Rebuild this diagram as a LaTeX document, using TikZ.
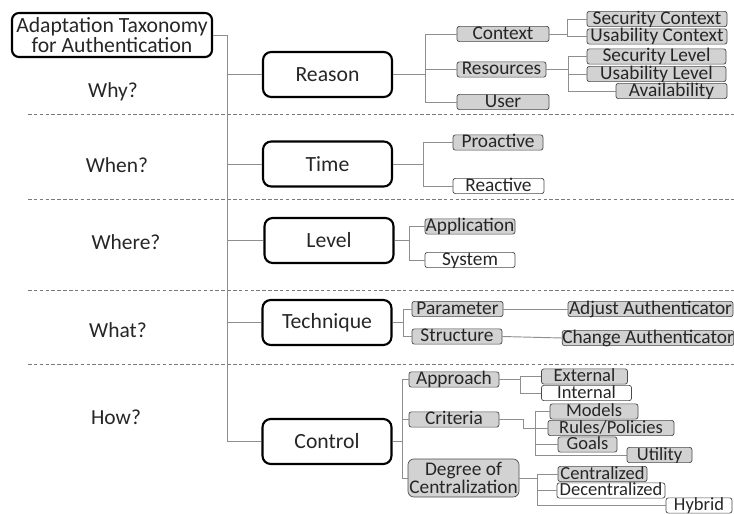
\documentclass[tikz,border=0pt]{standalone}
\usepackage{fontspec}
\setmainfont{Carlito}
\usepackage{xcolor}
\definecolor{txt}{HTML}{262626}
\definecolor{leafgray}{HTML}{D2D2D2}
\definecolor{edge}{HTML}{4A4A4A}
\definecolor{linkgray}{HTML}{8E8E8E}
\definecolor{sepgray}{HTML}{7A7A7A}

\tikzset{
  bw/.style={minimum width=#1*0.03cm},
  rootbox/.style={draw=black, line width=1.8pt, rounded corners=6pt, align=center,
    inner sep=0pt, minimum width=6cm, minimum height=1.32cm, text=txt,
    font=\fontsize{18.5}{17}\selectfont},
  mainbox/.style={draw=black, line width=1.8pt, rounded corners=7pt, text=txt,
    minimum width=3.87cm, minimum height=1.35cm, font=\fontsize{18.5}{18}\selectfont},
  question/.style={text=txt, font=\fontsize{18.3}{18}\selectfont},
  leafbase/.style={draw=edge, line width=0.6pt, rounded corners=2pt, fill=leafgray,
    inner sep=0pt, text=txt, font=\fontsize{16.5}{16}\selectfont},
  leaf/.style={leafbase, text height=10.8pt, text depth=2.2pt},
  leafw/.style={leaf, fill=white},
  small/.style={font=\fontsize{15.8}{15}\selectfont},
  link/.style={draw=linkgray, line width=0.8pt},
  sep/.style={draw=sepgray, line width=0.6pt, dash pattern=on 3pt off 2pt}
}

\begin{document}
\begin{tikzpicture}[x=0.03cm, y=-0.03cm]
  \clip (0,0) rectangle (734,514);

  % Root and questions
  \node[rootbox] (root) at (112,35) {Adaptation Taxonomy\\for Authentication};
  \node[question] (why) at (113,92) {Why?};
  \node[question] (when) at (117,165) {When?};
  \node[question] (where) at (126,242) {Where?};
  \node[question] (what) at (118,330) {What?};
  \node[question] (how) at (116,417) {How?};

  % Separators
  \foreach \y in {114,199,290,364}
    \draw[sep] (28,\y) -- (734,\y);

  % Main categories
  \node[mainbox] (reason) at (327.5,74.5) {Reason};
  \node[mainbox] (time) at (327.5,164) {Time};
  \node[mainbox] (level) at (329,240.5) {Level};
  \node[mainbox] (technique) at (327,322.5) {Technique};
  \node[mainbox] (control) at (327,441.5) {Control};

  % Trunk
  \coordinate (trunk) at (227,0);
  \draw[link] (root.east) -- (trunk |- root.east) |- (control.west);
  \foreach \n in {reason,time,level,technique}
    \draw[link] (trunk |- \n.west) -- (\n.west);

  % Reason
  \node[leaf, bw=92] (context) at (503,34) {Context};
  \node[leaf, bw=89] (resources) at (501.5,69.5) {Resources};
  \node[leaf, bw=92] (user) at (503,102) {User};
  \coordinate (rj) at (425,0);
  \foreach \n in {context,resources,user}
    \draw[link] (reason.east) -- (rj |- reason.east) |- (\n.west);

  \node[leaf, bw=140] (seccontext) at (657,19) {Security Context};
  \node[leaf, bw=140] (usecontext) at (657,36.5) {Usability Context};
  \coordinate (ctxj) at (567,0);
  \foreach \n in {seccontext,usecontext}
    \draw[link] (context.east) -- (ctxj |- context.east) |- (\n.west);

  \node[leaf, bw=139] (seclevel) at (656.5,56.5) {Security Level};
  \node[leaf, bw=139] (uselevel) at (656.5,74) {Usability Level};
  \node[leaf, bw=111] (avail) at (671.5,91) {Availability};
  \coordinate (resj) at (568,0);
  \foreach \n in {seclevel,uselevel,avail}
    \draw[link] (resources.east) -- (resj |- resources.east) |- (\n.west);

  % Time
  \node[leaf, bw=90] (proactive) at (498,142.5) {Proactive};
  \node[leafw, bw=91] (reactive) at (498.5,186) {Reactive};
  \coordinate (tj) at (423,0);
  \foreach \n in {proactive,reactive}
    \draw[link] (time.east) -- (tj |- time.east) |- (\n.west);

  % Level
  \node[leaf, bw=90] (application) at (470,226.5) {Application};
  \node[leafw, bw=90] (system) at (470,260) {System};
  \coordinate (lj) at (409,0);
  \foreach \n in {application,system}
    \draw[link] (level.east) -- (lj |- level.east) |- (\n.west);

  % Technique
  \node[leaf, bw=91] (parameter) at (457.5,309) {Parameter};
  \node[leaf, bw=90] (structure) at (457,336.5) {Structure};
  \node[leaf, bw=165] (adjust) at (650.5,309) {Adjust Authenticator};
  \node[leaf, bw=170] (change) at (648,338) {Change Authenticator};
  \coordinate (tqj) at (403,0);
  \foreach \n in {parameter,structure}
    \draw[link] (technique.east) -- (tqj |- technique.east) |- (\n.west);
  \draw[link] (parameter.east) -- (adjust.west);
  \draw[link] (structure.east) -- (change.west);

  % Control
  \node[leaf, bw=90] (approach) at (454,379.5) {Approach};
  \node[leaf, bw=90] (criteria) at (454,419.5) {Criteria};
  \node[leafbase, bw=111, minimum height=1.14cm, rounded corners=5pt, align=center,
    font=\fontsize{16.5}{15.5}\selectfont] (degree) at (463.5,478) {Degree of\\Centralization};
  \coordinate (ctj) at (402,0);
  \foreach \n in {approach,criteria,degree}
    \draw[link] (control.east) -- (ctj |- control.east) |- (\n.west);

  \node[leaf, small, bw=86] (external) at (584.5,376.5) {External};
  \node[leafw, small, bw=90] (internal) at (586.5,393) {Internal};
  \coordinate (apj) at (520,0);
  \foreach \n in {external,internal}
    \draw[link] (approach.east) -- (apj |- approach.east) |- (\n.west);

  \node[leaf, small, bw=88] (models) at (594,411.5) {Models};
  \node[leaf, small, bw=126] (rules) at (611,428) {Rules/Policies};
  \node[leaf, small, bw=59] (goals) at (587.5,444.5) {Goals};
  \node[leaf, small, bw=65] (utility) at (659.5,455) {Utility};
  \coordinate (crb) at (523,428);
  \coordinate (crj) at (535,0);
  \draw[link] (criteria.east) -| (crb) -- (rules.west);
  \foreach \n in {models,goals,utility}
    \draw[link] (crj |- rules.west) |- (\n.west);

  \node[leaf, small, bw=89] (central) at (602.5,474) {Centralized};
  \node[leafw, small, bw=108] (decentral) at (611,490.5) {Decentralized};
  \node[leafw, small, bw=66] (hybrid) at (699,505.5) {Hybrid};
  \coordinate (dgj) at (537,0);
  \foreach \n in {central,decentral,hybrid}
    \draw[link] (degree.east) -- (dgj |- degree.east) |- (\n.west);
\end{tikzpicture}
\end{document}
